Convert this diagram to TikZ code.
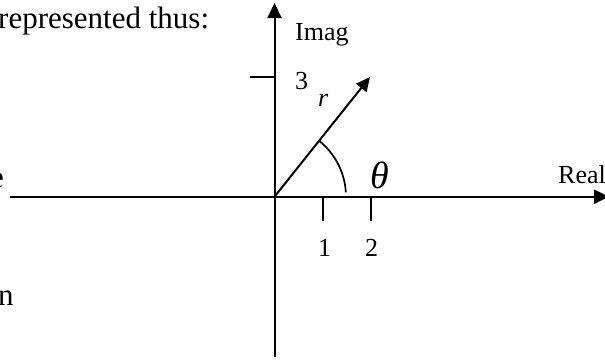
\documentclass[tikz,border=0pt]{standalone}
\usepackage{fontspec}
\setmainfont{Liberation Serif}
\usetikzlibrary{arrows.meta}
\begin{document}
\begin{tikzpicture}[x=1pt,y=-1pt,
  axis/.style={line width=2pt,-{Triangle[length=15pt,width=14pt]}},
  tick/.style={line width=2pt},
  lbl/.style={inner sep=0pt,anchor=base west,font=\fontsize{26}{30}\selectfont},
  body/.style={inner sep=0pt,font=\fontsize{31}{36}\selectfont}]
\clip (0,0) rectangle (605,362);
\coordinate (O) at (274.5,196.7);
\coordinate (L) at (10,196.7);
\coordinate (R) at (609,196.7);
\coordinate (B) at (274.5,357);
\coordinate (T) at (274.5,3);
\coordinate (P) at (370,77);
\coordinate (t3a) at (250,76.7);
\coordinate (t3b) at (274.5,76.7);
\coordinate (t1a) at (322.7,196.7);
\coordinate (t1b) at (322.7,221);
\coordinate (t2a) at (370.7,196.7);
\coordinate (t2b) at (370.7,221);
\draw[axis] (L) -- (R);
\draw[axis] (B) -- (T);
\draw[tick] (t3a) -- (t3b);
\draw[tick] (t1a) -- (t1b);
\draw[tick] (t2a) -- (t2b);
\draw[line width=2pt,-{Triangle[length=14pt,width=13pt]}] (O) -- (P);
\draw[line width=1.7pt] ([shift={(-51.6:71.5)}]O) arc[start angle=-51.6,end angle=-3.5,radius=71.5];
\node[body,anchor=base west] (txt) at (-2,28) {represented thus:};
\node[body,anchor=base east] (e) at (4,187) {e};
\node[body,anchor=base west] (n) at (-2,305) {n};
\node[lbl] (imag) at (295,40) {Imag};
\node[lbl] (three) at (295,89) {3};
\node[lbl,font=\fontsize{26}{30}\selectfont\itshape] (r) at (318,106) {r};
\node[lbl,font=\fontsize{38}{42}\selectfont\itshape] (theta) at (370,188) {θ};
\node[lbl] (real) at (558,183) {Real};
\node[lbl] (one) at (318,256) {1};
\node[lbl] (two) at (365,256) {2};
\end{tikzpicture}
\end{document}
